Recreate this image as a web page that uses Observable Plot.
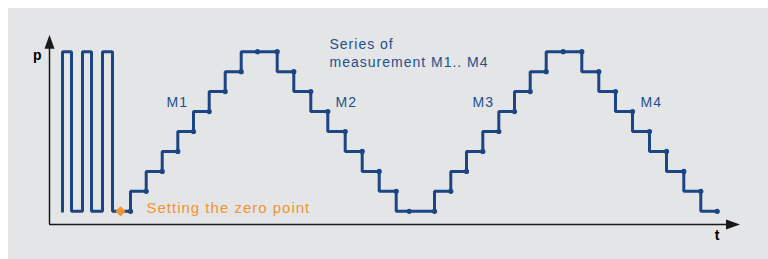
<!DOCTYPE html>
<html>
<head>
<meta charset="utf-8">
<script src="https://cdn.jsdelivr.net/npm/d3@7"></script>
<script src="https://cdn.jsdelivr.net/npm/@observablehq/plot@0.6"></script>
<style>
  html, body { margin: 0; padding: 0; background: #ffffff; }
  #panel { position: absolute; left: 8px; top: 8px; width: 760px; height: 251px; background: #e4e5e7; }
  #panel svg { display: block; }
</style>
</head>
<body>
<div id="panel"></div>
<script>
// Time (t) and pressure level (p) values
const pulseT = [13, 13, 22, 33, 42, 53, 63, 81];
const pulseP = [0, 8, 0, 8, 0, 8, 0, 0];

const stepT = [81, 96.7, 112.7, 128.3, 144, 159.7, 175.7, 191.7, 208, 227.7,
               244.3, 261.3, 278.3, 295.7, 312.7, 329.7, 346.7, 359.7, 385,
               401.3, 417, 433.3, 449.3, 465, 480.7, 496.7, 513.7, 532.3,
               549.3, 566, 583, 600, 617, 634.3, 651.3, 667.7];
const stepP = [0, 1, 2, 3, 4, 5, 6, 7, 8, 8,
               7, 6, 5, 4, 3, 2, 1, 0, 0,
               1, 2, 3, 4, 5, 6, 7, 8, 8,
               7, 6, 5, 4, 3, 2, 1, 0];

const zeroT = [71];
const zeroP = [0];

const seriesLabels = ["M1", "M2", "M3", "M4"];
const seriesLabelT = [117, 286, 423, 591];
const seriesLabelP = [5.25, 5.25, 5.25, 5.25];

const titleText = ["Series of\nmeasurement M1.. M4"];
const titleT = [280];
const titleP = [7.21];

const zeroText = ["Setting the zero point"];
const zeroTextT = [97];
const zeroTextP = [-0.1];

const axisNames = ["p", "t"];
const axisNameT = [-12.3, 667.5];
const axisNameP = [7.56, -1.46];

const axisLevel = -0.66;   // level of the t axis
const axisTipT = 690.5;    // tip of the t arrow
const axisTipP = 8.85;     // tip of the p arrow

const blue = "#1c4584";
const textBlue = "#22508e";
const orange = "#f29432";
const axisColor = "#1a1a1a";

const pulse = pulseT.map((t, i) => ({t, p: pulseP[i]}));
const steps = stepT.map((t, i) => ({t, p: stepP[i]}));
const zero = zeroT.map((t, i) => ({t, p: zeroP[i]}));
const mLabels = seriesLabels.map((s, i) => ({t: seriesLabelT[i], p: seriesLabelP[i], s}));
const title = titleText.map((s, i) => ({t: titleT[i], p: titleP[i], s}));
const zeroLbl = zeroText.map((s, i) => ({t: zeroTextT[i], p: zeroTextP[i], s}));
const axNames = axisNames.map((s, i) => ({t: axisNameT[i], p: axisNameP[i], s}));

// narrow filled arrowhead, tip at the anchor point
const arrowHead = {
  draw(context, size) {
    const r = Math.sqrt(size / Math.PI);
    context.moveTo(0, 0);
    context.lineTo(-0.5 * r, 1.4 * r);
    context.lineTo(0.5 * r, 1.4 * r);
    context.closePath();
  }
};

const font = "Liberation Sans, Arial, Helvetica, sans-serif";

const chart = Plot.plot({
  width: 760,
  height: 251,
  x: {domain: [0, 691], range: [41, 732], axis: null},
  y: {domain: [0, 8], range: [202.8, 43.2], axis: null},
  style: {background: "transparent", overflow: "visible", fontFamily: font, letterSpacing: "1px"},
  marks: [
    // axes
    Plot.ruleX([0], {y1: axisLevel, y2: axisTipP - 0.5, stroke: axisColor, strokeWidth: 1.5}),
    Plot.ruleY([axisLevel], {x1: 0, x2: axisTipT - 8, stroke: axisColor, strokeWidth: 1.5}),
    Plot.dot([{t: 0, p: axisTipP}], {x: "t", y: "p", symbol: arrowHead, r: 10, fill: axisColor, stroke: null}),
    Plot.dot([{t: axisTipT, p: axisLevel}], {x: "t", y: "p", symbol: arrowHead, r: 10, fill: axisColor, stroke: null, rotate: 90}),
    Plot.text(axNames, {x: "t", y: "p", text: "s", fontSize: 14, fontWeight: "bold", fill: "#000", textAnchor: "middle", lineAnchor: "bottom", dx: 0.5}),
    // zeroing pulses
    Plot.line(pulse, {x: "t", y: "p", curve: "step-after", stroke: blue, strokeWidth: 3, strokeLinejoin: "miter"}),
    // measurement staircase
    Plot.line(steps, {x: "t", y: "p", curve: "step-before", stroke: blue, strokeWidth: 3, strokeLinejoin: "miter"}),
    Plot.dot(steps, {x: "t", y: "p", r: 2.6, fill: blue, stroke: null}),
    // zero point marker
    Plot.dot(zero, {x: "t", y: "p", symbol: "diamond2", r: 4.6, fill: orange, stroke: null}),
    // labels
    Plot.text(mLabels, {x: "t", y: "p", text: "s", fontSize: 14, fill: textBlue, textAnchor: "start", lineAnchor: "bottom"}),
    Plot.text(title, {x: "t", y: "p", text: "s", fontSize: 14, fill: textBlue, textAnchor: "start", lineAnchor: "bottom", lineHeight: 1.29}),
    Plot.text(zeroLbl, {x: "t", y: "p", text: "s", fontSize: 15, fill: orange, textAnchor: "start", lineAnchor: "bottom"})
  ]
});

document.getElementById("panel").appendChild(chart);
</script>
</body>
</html>
